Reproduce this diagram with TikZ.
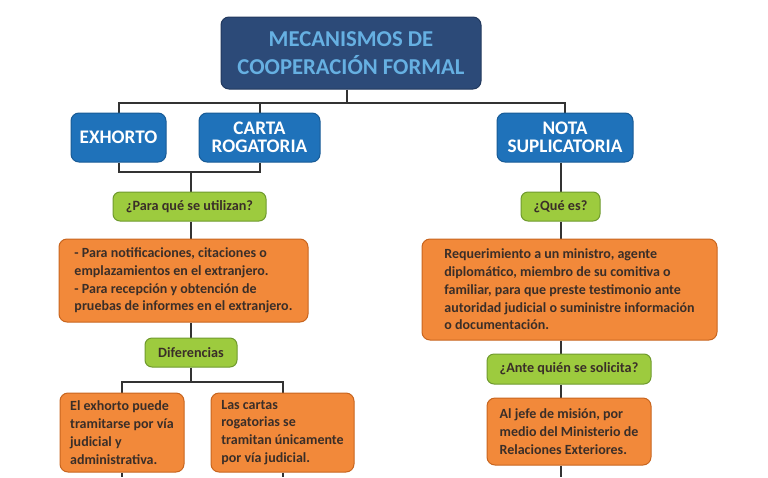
\documentclass[tikz,border=0pt]{standalone}
\usepackage{fontspec}
\setmainfont{Carlito}
\usetikzlibrary{backgrounds}
\definecolor{navy}{HTML}{2C4A78}
\definecolor{navyline}{HTML}{22395E}
\definecolor{skytext}{HTML}{66B0E2}
\definecolor{bluebox}{HTML}{1F72BA}
\definecolor{blueline}{HTML}{185B96}
\definecolor{greenbox}{HTML}{9DCB3E}
\definecolor{greenline}{HTML}{6F9A2E}
\definecolor{orangebox}{HTML}{F2893A}
\definecolor{orangeline}{HTML}{C8651F}
\definecolor{darktext}{HTML}{3A2E28}
\definecolor{wire}{HTML}{333333}
\tikzset{
  titlebox/.style={draw=navyline, fill=navy, rounded corners=8pt, line width=1pt,
    text=skytext, font=\fontsize{22.7}{28}\selectfont\bfseries, align=center},
  mechbox/.style={draw=blueline, fill=bluebox, rounded corners=8pt, line width=1pt,
    text=white, font=\fontsize{19.2}{18.5}\selectfont\bfseries, align=center},
  askbox/.style={draw=greenline, fill=greenbox, rounded corners=7pt, line width=1pt,
    text=darktext, font=\fontsize{14.2}{16}\selectfont\bfseries, align=center},
  infobox/.style={draw=orangeline, fill=orangebox, rounded corners=8pt, line width=1pt,
    text=darktext, font=\fontsize{14}{17.8}\selectfont\bfseries, align=left,
    inner sep=0pt},
  conn/.style={draw=wire, line width=2pt}
}
\begin{document}
\begin{tikzpicture}[x=1pt,y=-1pt]
  \useasboundingbox (0,0) rectangle (768,477);

  % top level
  \node[titlebox, minimum width=260pt, minimum height=72pt] (title) at (351,53)
    {MECANISMOS DE\\COOPERACIÓN FORMAL};

  \node[mechbox, minimum width=95pt, minimum height=49pt] (exhorto) at (118.5,137.5) {EXHORTO};
  \node[mechbox, minimum width=121pt, minimum height=49pt] (carta) at (259.5,137.5) {CARTA\\ROGATORIA};
  \node[mechbox, minimum width=136pt, minimum height=49pt] (nota) at (565,137.5) {NOTA\\SUPLICATORIA};

  % left branch
  \node[askbox, minimum width=153pt, minimum height=29pt] (utilizan) at (189.5,206.5) {¿Para qué se utilizan?};
  \node[infobox, minimum width=249pt, minimum height=83pt] (usos) at (183.5,280.5)
    {- Para notificaciones, citaciones o\\emplazamientos en el extranjero.\\- Para recepción y obtención de\\pruebas de informes en el extranjero.};
  \node[askbox, minimum width=92pt, minimum height=29pt] (diferencias) at (191,352.5) {Diferencias};
  \node[infobox, minimum width=124pt, minimum height=79pt] (viaexh) at (122,432.5)
    {El exhorto puede\\tramitarse por vía\\judicial y\\administrativa.};
  \node[infobox, minimum width=143pt, minimum height=79pt] (viacarta) at (282.5,432.5)
    {Las cartas\\rogatorias se\\tramitan únicamente\\por vía judicial.};

  % right branch
  \node[askbox, minimum width=79pt, minimum height=29pt] (quees) at (560.5,206.5) {¿Qué es?};
  \node[infobox, minimum width=295pt, minimum height=101pt] (requerimiento) at (569.5,289.5)
    {Requerimiento a un ministro, agente\\diplomático, miembro de su comitiva o\\familiar, para que preste testimonio ante\\autoridad judicial o suministre información\\o documentación.};
  \node[askbox, minimum width=164pt, minimum height=30pt] (antequien) at (569,369) {¿Ante quién se solicita?};
  \node[infobox, minimum width=164pt, minimum height=67pt] (jefe) at (569,431.5)
    {Al jefe de misión, por\\medio del Ministerio de\\Relaciones Exteriores.};

  % connectors
  \coordinate (bustop) at (347,103);
  \coordinate (busleft) at (191,172);
  \coordinate (busdiff) at (191,382);
  \coordinate (floor) at (0,477);

  \begin{scope}[on background layer]
  \draw[conn] (title.south -| bustop) -- (bustop);
  \draw[conn] (exhorto.north) |- (bustop) -| (nota.north);
  \draw[conn] (carta.north) -- (carta.north |- bustop);
  \draw[conn] (exhorto.south) |- (busleft) -| (carta.south);
  \draw[conn] (busleft) -- (utilizan.north -| busleft);
  \draw[conn] (utilizan.south -| busleft) -- (usos.north -| busleft);
  \draw[conn] (usos.south -| busleft) -- (diferencias.north -| busleft);
  \draw[conn] (diferencias.south -| busleft) -- (busdiff);
  \draw[conn] (viaexh.north) |- (busdiff) -| (viacarta.north);
  \draw[conn] (viaexh.south) -- (viaexh.south |- floor);
  \draw[conn] (viacarta.south) -- (viacarta.south |- floor);
  \draw[conn] (nota.south -| quees) -- (quees.north);
  \draw[conn] (quees.south) -- (quees.south |- requerimiento.north);
  \draw[conn] (requerimiento.south -| quees) -- (antequien.north -| quees);
  \draw[conn] (antequien.south -| quees) -- (jefe.north -| quees);
  \draw[conn] (jefe.south -| quees) -- (quees |- floor);
  \end{scope}
\end{tikzpicture}
\end{document}
